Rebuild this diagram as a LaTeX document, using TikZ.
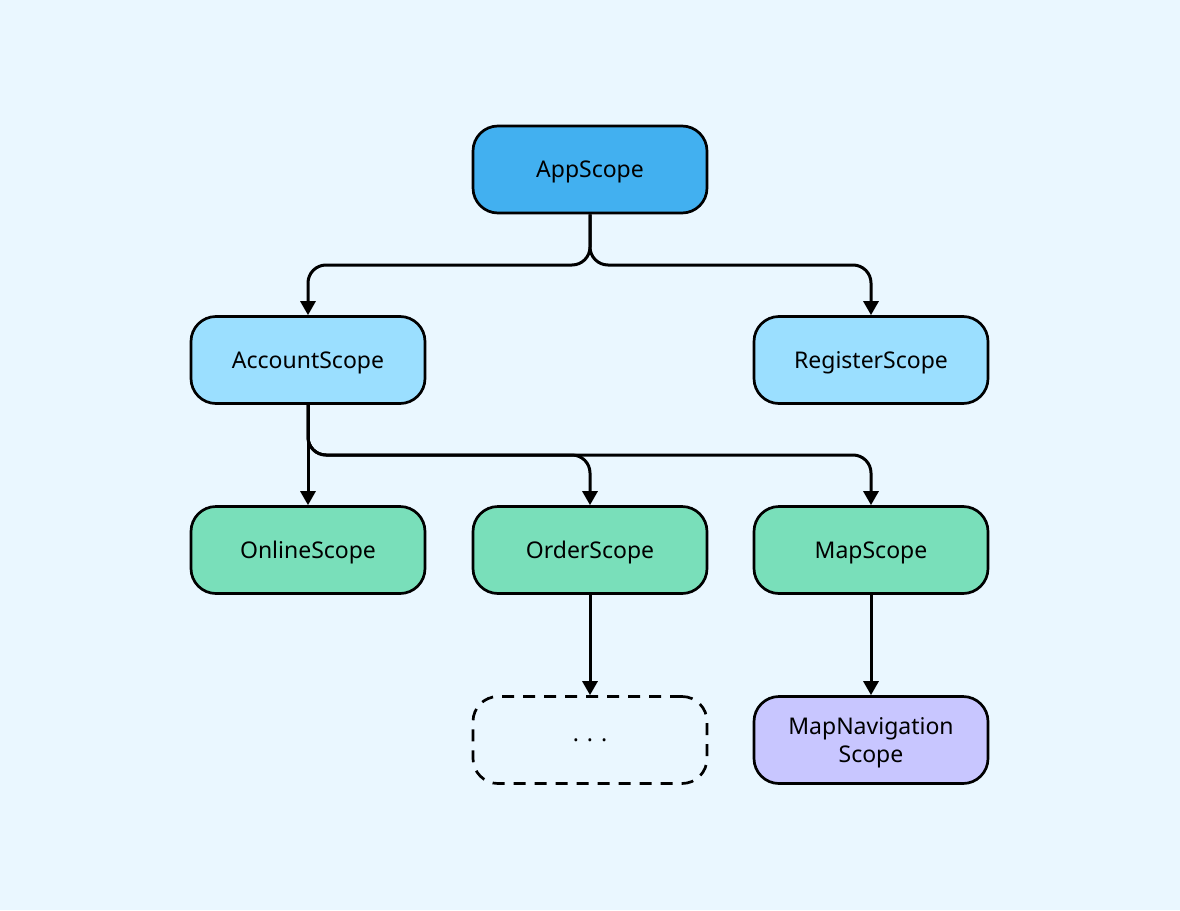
\documentclass[tikz,border=0pt]{standalone}
\usepackage{fontspec}
\setmainfont{Noto Sans}
\usetikzlibrary{arrows.meta}
\definecolor{bgc}{HTML}{EAF7FF}
\definecolor{appc}{HTML}{42B0F0}
\definecolor{accc}{HTML}{9BDFFF}
\definecolor{grc}{HTML}{79DFBA}
\definecolor{puc}{HTML}{C8C6FF}
\tikzset{
  scopebox/.style={draw=black, line width=2.7pt, rounded corners=25pt, minimum width=234pt, minimum height=87pt, inner sep=0pt, align=center, text depth=0pt, font=\fontsize{23}{28}\selectfont},
  conn/.style={line width=3pt, -{Triangle[length=14pt,width=15pt]}, rounded corners=18pt},
}
\begin{document}
\begin{tikzpicture}[x=1pt,y=-1pt]
\fill[bgc] (0,0) rectangle (1180,910);
\useasboundingbox (0,0) rectangle (1180,910);
\node[scopebox, fill=appc] (app) at (590,169.5) {AppScope};
\node[scopebox, fill=accc] (acc) at (308,360) {AccountScope};
\node[scopebox, fill=accc] (reg) at (871,360) {RegisterScope};
\node[scopebox, fill=grc] (online) at (308,550) {OnlineScope};
\node[scopebox, fill=grc] (order) at (590,550) {OrderScope};
\node[scopebox, fill=grc] (map) at (871,550) {MapScope};
\node[scopebox, dash pattern=on 12pt off 9pt] (more) at (590,740) {. . .};
\node[scopebox, fill=puc] (mapnav) at (871,740) {MapNavigation\\Scope};
\coordinate (j1) at (590,265);
\coordinate (j2) at (308,455);
\draw[conn] (app.south) -- (j1) -| (acc.north);
\draw[conn] (app.south) -- (j1) -| (reg.north);
\draw[conn] (acc.south) -- (online.north);
\draw[conn] (acc.south) -- (j2) -| (order.north);
\draw[conn] (acc.south) -- (j2) -| (map.north);
\draw[conn] (order.south) -- (more.north);
\draw[conn] (map.south) -- (mapnav.north);
\end{tikzpicture}
\end{document}
